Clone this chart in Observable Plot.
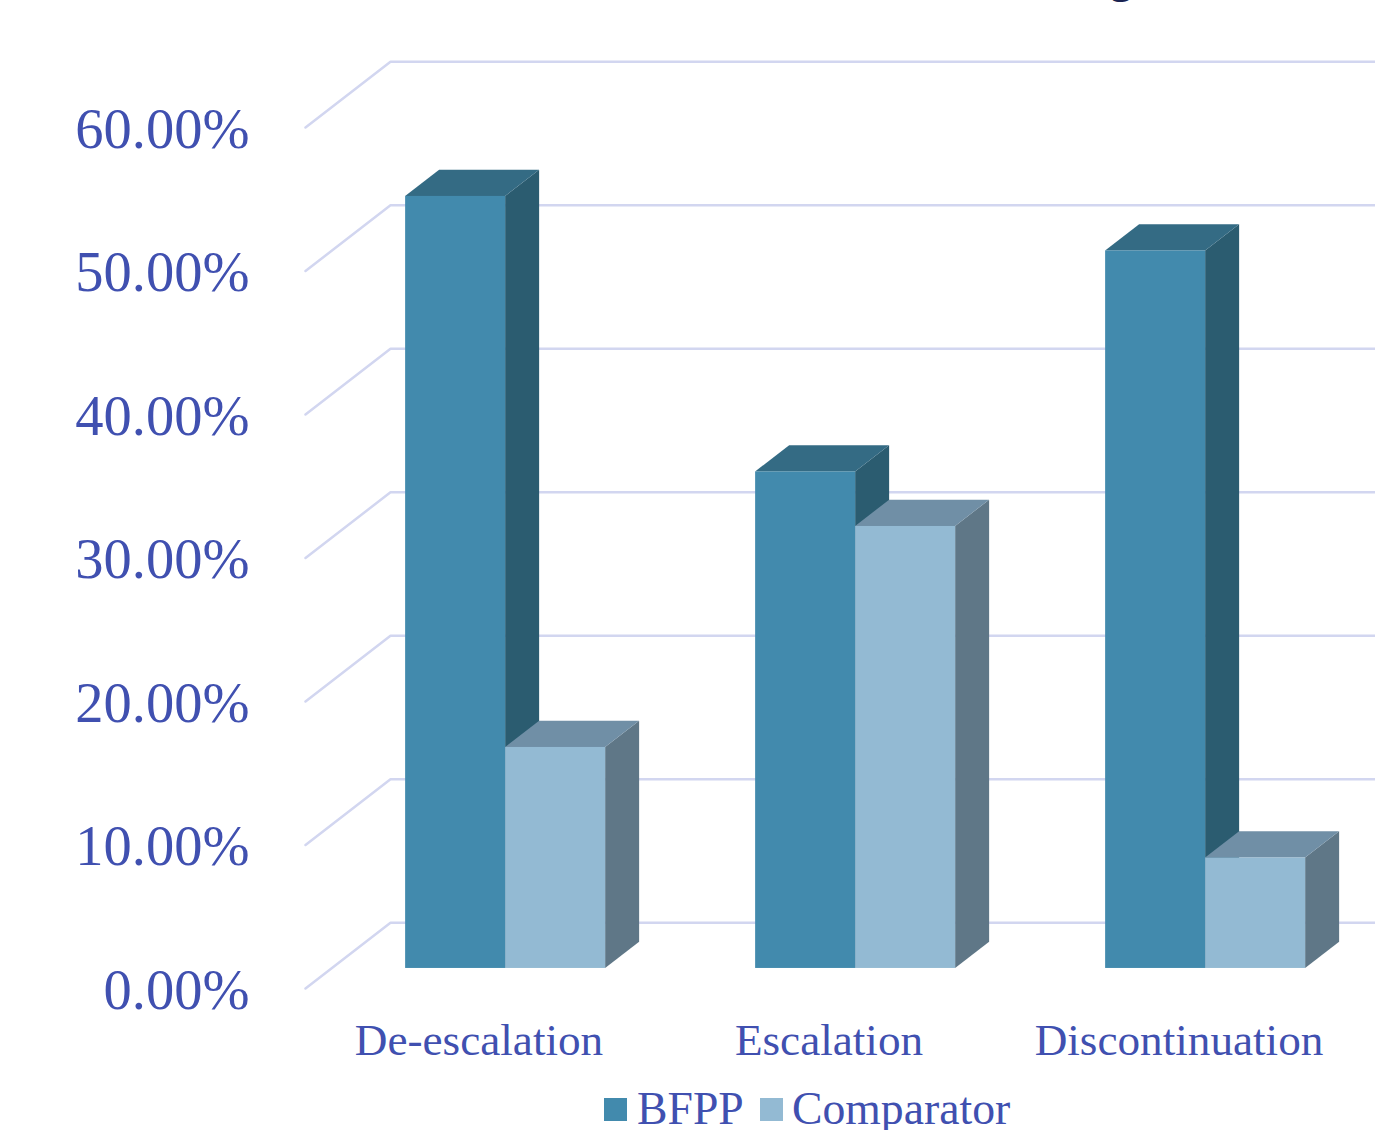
<!DOCTYPE html>
<html>
<head>
<meta charset="utf-8">
<script src="https://cdn.jsdelivr.net/npm/d3@7"></script>
<script src="https://cdn.jsdelivr.net/npm/@observablehq/plot@0.6"></script>
<style>
  html, body { margin: 0; padding: 0; background: #fff; overflow: hidden; }
  svg { display: block; }
  #legend { position: absolute; left: 0; top: 1084px; width: 1375px; height: 46px; font: 45.7px "Liberation Serif", serif; color: #4050b0; }
  #legend span { position: absolute; white-space: nowrap; line-height: 50px; top: 0; }
  #legend i { position: absolute; top: 14px; width: 23px; height: 23px; }
</style>
</head>
<body>
<div id="chart"></div>
<div id="legend"></div>
<script>
const categories = ["De-escalation", "Escalation", "Discontinuation"];
const bfpp = [53.8, 34.6, 50.0];
const comparator = [15.4, 30.8, 7.7];
const gridValues = [0, 10, 20, 30, 40, 50, 60];

const seriesNames = ["BFPP", "Comparator"];
const faceColors = {
  BFPP: {front: "#428aad", side: "#2b5c70", top: "#346b84"},
  Comparator: {front: "#93bad3", side: "#5f7787", top: "#708fa6"}
};
const textColor = "#4050b0";
const gridColor = "#d2d6f0";

// Oblique projection: depth 1 is the back wall, in x-scale and y-scale units.
const depthX = 85 / 350;
const depthY = 4.58;
const barNear = 0.305;
const barFar = 0.705;
const barStart = 0.212;
const barWidth = 100 / 350;

const project = (x, v, depth) => ({x: x + depth * depthX, y: v + depth * depthY});

// Each gridline runs up the side wall and then along the back wall.
const gridRows = gridValues.flatMap((v) => [
  {v, ...project(0, v, 0)},
  {v, ...project(0, v, 1)},
  {v, ...project(3, v, 1)}
]);

// Three visible faces per bar, derived from the value arrays.
const bars = [
  ...bfpp.map((value, i) => ({series: "BFPP", i, slot: 0, value})),
  ...comparator.map((value, i) => ({series: "Comparator", i, slot: 1, value}))
].map((b) => {
  const left = b.i + barStart + b.slot * barWidth;
  return {...b, left, right: left + barWidth};
});

const fronts = bars.map((b) => {
  const p0 = project(b.left, 0, barNear), p1 = project(b.right, b.value, barNear);
  return {...b, x1: p0.x, x2: p1.x, y1: p0.y, y2: p1.y};
});
const sides = bars.flatMap((b) => [barNear, barFar].map((d) => {
  const base = project(b.right, 0, d), top = project(b.right, b.value, d);
  return {id: b.series + b.i, series: b.series, x: base.x, y1: base.y, y2: top.y};
}));
const tops = bars.flatMap((b) => [barNear, barFar].map((d) => {
  const l = project(b.left, b.value, d), r = project(b.right, b.value, d);
  return {id: b.series + b.i, series: b.series, y: l.y, x1: l.x, x2: r.x};
}));

const faceMarks = (series) => [
  Plot.areaY(sides.filter((d) => d.series === series), {
    x: "x", y1: "y1", y2: "y2", z: "id", fill: faceColors[series].side
  }),
  Plot.areaX(tops.filter((d) => d.series === series), {
    y: "y", x1: "x1", x2: "x2", z: "id", fill: faceColors[series].top
  }),
  Plot.rect(fronts.filter((d) => d.series === series), {
    x1: "x1", x2: "x2", y1: "y1", y2: "y2", fill: faceColors[series].front
  })
];

const plot = Plot.plot({
  width: 1375,
  height: 1084,
  marginLeft: 305,
  marginRight: 20,
  marginTop: 0,
  marginBottom: 0,
  style: {fontFamily: "'Liberation Serif', serif", background: "#fff", color: textColor, overflow: "hidden"},
  x: {type: "linear", domain: [0, 3], range: [305, 1355], axis: null},
  y: {type: "linear", domain: [0, 60], range: [988, 127], axis: null},
  marks: [
    Plot.line(gridRows, {x: "x", y: "y", z: "v", stroke: gridColor, strokeWidth: 2.5, clip: false}),
    ...faceMarks("BFPP"),
    ...faceMarks("Comparator"),
    Plot.axisY({
      ticks: gridValues,
      tickSize: 0,
      tickPadding: 56,
      fontSize: 56.5,
      dy: 2,
      color: textColor,
      label: null,
      tickFormat: (d) => d.toFixed(2) + "%"
    }),
    Plot.text(categories, {
      x: (d, i) => i + 0.5,
      y: () => 0,
      dx: -1.5,
      dy: 52.5,
      text: (d) => d,
      fontSize: 45.2,
      fill: textColor,
      lineAnchor: "middle"
    }),
    // Descender of the heading line that sits above the plot area.
    Plot.text(["g"], {
      x: () => 2.33,
      frameAnchor: "top",
      lineAnchor: "bottom",
      dy: -9,
      fontSize: 48,
      fill: "#1a2352"
    })
  ]
});
document.getElementById("chart").append(plot);

// Legend row placed below the plot.
const legend = document.getElementById("legend");
const legendLayout = [
  {name: seriesNames[0], swatch: 604, label: 637},
  {name: seriesNames[1], swatch: 760, label: 792}
];
for (const item of legendLayout) {
  const sw = document.createElement("i");
  sw.style.left = item.swatch + "px";
  sw.style.background = faceColors[item.name].front;
  const label = document.createElement("span");
  label.style.left = item.label + "px";
  label.textContent = item.name;
  legend.append(sw, label);
}
</script>
</body>
</html>
